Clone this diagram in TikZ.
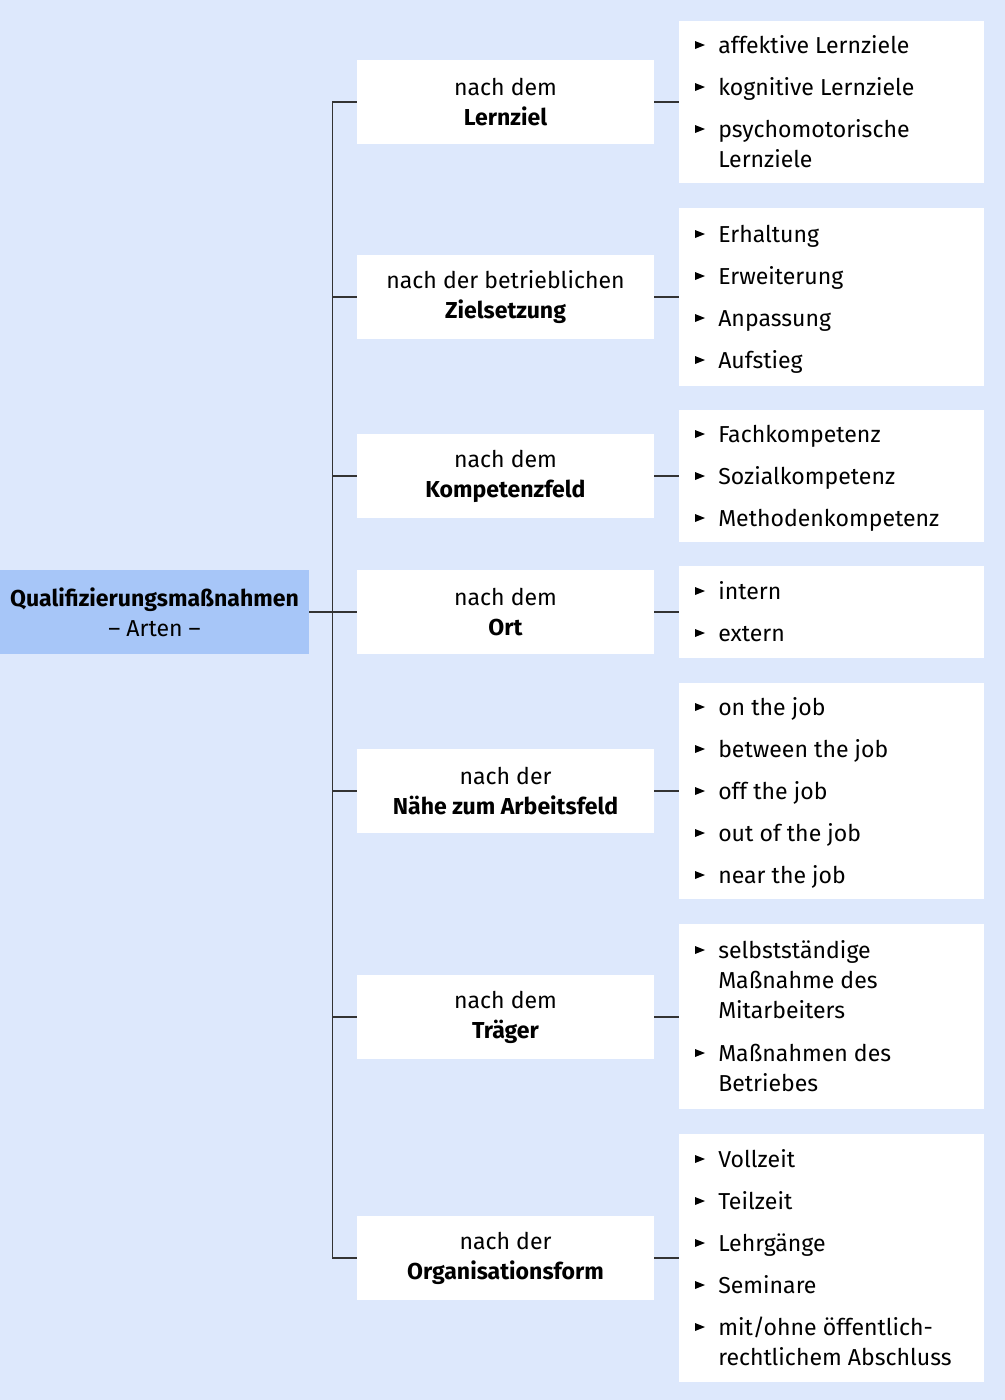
\documentclass[tikz,border=0pt]{standalone}
\usepackage{fontspec}
\setmainfont{Fira Sans}
\definecolor{bgblue}{HTML}{DDE8FC}
\definecolor{rootblue}{HTML}{A7C6F8}
\definecolor{linegray}{HTML}{333333}
\tikzset{
  base font/.style={font=\fontsize{17.3}{22.5}\selectfont},
  rootbox/.style={base font, fill=rootblue, align=center, inner sep=0pt,
    minimum width=309*0.75pt, minimum height=84*0.75pt},
  midbox/.style={base font, fill=white, align=center, inner sep=0pt,
    minimum width=297*0.75pt, minimum height=84*0.75pt},
  rightbox/.style={fill=white, inner sep=0pt, minimum width=305*0.75pt, minimum height=#1*0.75pt},
  itemtxt/.style={base font, anchor=base west, inner sep=0pt},
  conn/.style={draw=linegray, line width=1pt},
  tri/.style={fill=black}
}
\newcommand\bul[3]{%
  \fill[tri] (695,#2-4) -- (705,#2) -- (695,#2+4) -- cycle;
  \node[itemtxt] (#1) at (718,#2+8) {#3};}
\newcommand\contline[3]{%
  \node[itemtxt] (#1) at (718,#2+8) {#3};}
\begin{document}
\begin{tikzpicture}[x=0.75pt,y=-0.75pt]
\fill[bgblue] (0,0) rectangle (1005,1400);
\useasboundingbox (0,0) rectangle (1005,1400);

% root
\node[rootbox] (root) at (154.5,612) {\textbf{Qualifizierungsmaßnahmen}\\– Arten –};

% middle boxes
\node[midbox] (m1) at (505.5,102) {nach dem\\\textbf{Lernziel}};
\node[midbox] (m2) at (505.5,297) {nach der betrieblichen\\\textbf{Zielsetzung}};
\node[midbox] (m3) at (505.5,476) {nach dem\\\textbf{Kompetenzfeld}};
\node[midbox] (m4) at (505.5,612) {nach dem\\\textbf{Ort}};
\node[midbox] (m5) at (505.5,791) {nach der\\\textbf{Nähe zum Arbeitsfeld}};
\node[midbox] (m6) at (505.5,1017) {nach dem\\\textbf{Träger}};
\node[midbox] (m7) at (505.5,1258) {nach der\\\textbf{Organisationsform}};

% right boxes
\node[rightbox=162] (r1) at (831.5,102) {};
\node[rightbox=178] (r2) at (831.5,297) {};
\node[rightbox=132] (r3) at (831.5,476) {};
\node[rightbox=92]  (r4) at (831.5,612) {};
\node[rightbox=216] (r5) at (831.5,791) {};
\node[rightbox=185] (r6) at (831.5,1016.5) {};
\node[rightbox=248] (r7) at (831.5,1258) {};

% tree connectors
\draw[conn] (m1.west) -- ++(-24,0) |- (m7.west);
\foreach \i in {2,...,6} {\draw[conn] (m\i.west) -- ++(-24,0);}
\draw[conn] (root.east) -- (m4.west);
\foreach \i in {1,...,7} {\draw[conn] (m\i.east) -- (m\i.east -| r\i.west);}

% items
\bul{a1}{45}{affektive Lernziele}
\bul{a2}{87}{kognitive Lernziele}
\bul{a3}{129}{psychomotorische}
\contline{a3b}{159}{Lernziele}

\bul{b1}{234}{Erhaltung}
\bul{b2}{276}{Erweiterung}
\bul{b3}{318}{Anpassung}
\bul{b4}{360}{Aufstieg}

\bul{c1}{434}{Fachkompetenz}
\bul{c2}{476}{Sozialkompetenz}
\bul{c3}{518}{Methodenkompetenz}

\bul{d1}{591}{intern}
\bul{d2}{633}{extern}

\bul{e1}{707}{on the job}
\bul{e2}{749}{between the job}
\bul{e3}{791}{off the job}
\bul{e4}{833}{out of the job}
\bul{e5}{875}{near the job}

\bul{f1}{950}{selbstständige}
\contline{f1b}{980}{Maßnahme des}
\contline{f1c}{1010}{Mitarbeiters}
\bul{f2}{1053}{Maßnahmen des}
\contline{f2b}{1083}{Betriebes}

\bul{g1}{1159}{Vollzeit}
\bul{g2}{1201}{Teilzeit}
\bul{g3}{1243}{Lehrgänge}
\bul{g4}{1285}{Seminare}
\bul{g5}{1327}{mit/ohne öffentlich-}
\contline{g5b}{1357}{rechtlichem Abschluss}
\end{tikzpicture}
\end{document}
